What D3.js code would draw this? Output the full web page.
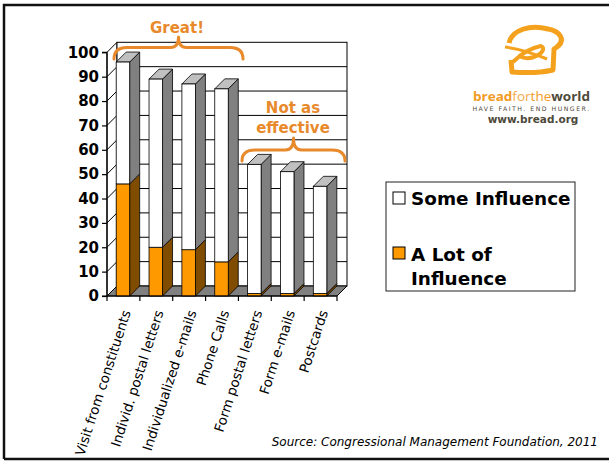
<!DOCTYPE html>
<html><head><meta charset="utf-8">
<script src="https://cdn.jsdelivr.net/npm/d3@7/dist/d3.min.js"></script>
<style>body{margin:0;background:#fff}svg{display:block}</style>
</head><body>
<script>
const categories = ["Visit from constituents","Individ. postal letters","Individualized e-mails","Phone Calls","Form postal letters","Form e-mails","Postcards"];
const aLotOfInfluence = [46,20,19,14,1,1,1];
const someInfluence = [50,69,68,71,53,50,44];
const yTicks = [0,10,20,30,40,50,60,70,80,90,100];
const seriesNames = ["Some Influence","A Lot of Influence"];

const W = 609, H = 461;
const svg = d3.select("body").append("svg").attr("width", W).attr("height", H);
const ORANGE_TXT = "#E8892B";
const DX = 10, DY = -10;

// frame
svg.append("path").attr("d", `M4,459 L4,5 L${W},5`).attr("fill","none").attr("stroke","#111").attr("stroke-width",2.5);
svg.append("line").attr("x1",4).attr("x2",W).attr("y1",459).attr("y2",459).attr("stroke","#111").attr("stroke-width",2.5);

const y = d3.scaleLinear().domain([0,100]).range([296, 52.3]);
const x = d3.scaleBand().domain(categories).range([107, 337]);

const g = svg.append("g");
const x0 = 107, x1 = 337;
// left wall
g.append("polygon").attr("points", [[x0,y(100)],[x0+DX,y(100)+DY],[x0+DX,y(0)+DY],[x0,y(0)]].join(" "))
  .attr("fill","#fff").attr("stroke","#000").attr("stroke-width",1);
// back wall
g.append("rect").attr("x",x0+DX).attr("y",y(100)+DY).attr("width",x1-x0).attr("height",y(0)-y(100))
  .attr("fill","#fff").attr("stroke","#000").attr("stroke-width",1);
// gridlines
yTicks.filter(v=>v>0 && v<100).forEach(v=>{
  g.append("line").attr("x1",x0+DX).attr("x2",x1+DX).attr("y1",y(v)+DY).attr("y2",y(v)+DY).attr("stroke","#000").attr("stroke-width",1);
  g.append("line").attr("x1",x0).attr("x2",x0+DX).attr("y1",y(v)).attr("y2",y(v)+DY).attr("stroke","#000").attr("stroke-width",1);
});
// floor
g.append("polygon").attr("points", [[x0,y(0)],[x1,y(0)],[x1+DX,y(0)+DY],[x0+DX,y(0)+DY]].join(" "))
  .attr("fill","#808080").attr("stroke","#000").attr("stroke-width",1);

// bars
const bw = 13.5;
function box(xl, yb, yt, front, side, top){
  g.append("polygon").attr("points",[[xl+bw,yb],[xl+bw+DX,yb+DY],[xl+bw+DX,yt+DY],[xl+bw,yt]].join(" "))
    .attr("fill",side).attr("stroke","#000").attr("stroke-width",0.8);
  if(top) g.append("polygon").attr("points",[[xl,yt],[xl+DX,yt+DY],[xl+bw+DX,yt+DY],[xl+bw,yt]].join(" "))
    .attr("fill",top).attr("stroke","#000").attr("stroke-width",0.8);
  g.append("rect").attr("x",xl).attr("y",yt).attr("width",bw).attr("height",yb-yt)
    .attr("fill",front).attr("stroke","#000").attr("stroke-width",0.8);
}
categories.forEach((c,i)=>{
  const xl = x(c) + x.bandwidth()/2 - bw/2 - 0.5;
  const a = aLotOfInfluence[i], s = someInfluence[i];
  box(xl, y(0), y(a), "#FF9900", "#7F4C00", null);
  box(xl, y(a), y(a+s), "#FFFFFF", "#808080", "#C0C0C0");
});

// y axis
const ya = svg.append("g").attr("transform","translate(107,0)")
  .call(d3.axisLeft(y).tickValues(yTicks).tickSize(5).tickPadding(3));
ya.select(".domain").attr("stroke","#000").attr("d",`M-5,${y(0)}H0V${y(100)}H-5`).attr("stroke-width",1.2);
ya.selectAll(".tick line").attr("stroke","#000").attr("stroke-width",1.2);
ya.selectAll(".tick text").attr("font-family","'DejaVu Sans', Verdana, sans-serif").attr("font-weight","bold")
  .attr("font-size",15).attr("fill","#000");

// x axis
svg.append("line").attr("x1",x0).attr("x2",x1).attr("y1",y(0)).attr("y2",y(0)).attr("stroke","#000").attr("stroke-width",1.2);
categories.concat(["__end"]).forEach((c,i)=>{
  const xx = i < categories.length ? x(c) : x.range()[1];
  svg.append("line").attr("x1",xx).attr("x2",xx).attr("y1",y(0)).attr("y2",y(0)+5).attr("stroke","#000").attr("stroke-width",1.2);
});
categories.forEach(c=>{
  const cx = x(c) + x.bandwidth()/2 + 7.5, cy = 312;
  svg.append("text").attr("transform",`translate(${cx},${cy}) rotate(-72)`)
    .attr("text-anchor","end").attr("font-family","'DejaVu Sans', Verdana, sans-serif").attr("font-size",13.5)
    .attr("fill","#000").text(c);
});

// annotations
function brace(xa, xb, yEnd, yLine, yPeak){
  const xm = (xa+xb)/2, r = 9;
  const d = `M${xa},${yEnd} Q${xa},${yLine} ${xa+r+4},${yLine} L${xm-8},${yLine} Q${xm},${yLine} ${xm},${yPeak}`+
            ` M${xb},${yEnd} Q${xb},${yLine} ${xb-r-4},${yLine} L${xm+8},${yLine} Q${xm},${yLine} ${xm},${yPeak}`;
  svg.append("path").attr("d",d).attr("fill","none").attr("stroke",ORANGE_TXT).attr("stroke-width",3).attr("stroke-linecap","round");
}
brace(114, 243, 59, 47.5, 37);
brace(242, 345, 161, 150, 138);
const annFont = "'DejaVu Sans', Verdana, sans-serif";
svg.append("text").attr("x",177).attr("y",33).attr("text-anchor","middle").attr("font-family",annFont)
  .attr("font-weight","bold").attr("font-size",15).attr("fill",ORANGE_TXT).text("Great!");
svg.append("text").attr("x",293).attr("y",113).attr("text-anchor","middle").attr("font-family",annFont)
  .attr("font-weight","bold").attr("font-size",15).attr("fill",ORANGE_TXT).text("Not as");
svg.append("text").attr("x",293).attr("y",133).attr("text-anchor","middle").attr("font-family",annFont)
  .attr("font-weight","bold").attr("font-size",15).attr("fill",ORANGE_TXT).text("effective");

// legend
const lg = svg.append("g");
lg.append("rect").attr("x",386).attr("y",182).attr("width",189).attr("height",109).attr("fill","#fff").attr("stroke","#222").attr("stroke-width",1);
lg.append("rect").attr("x",393).attr("y",192).attr("width",12).attr("height",12).attr("fill","#fff").attr("stroke","#000");
lg.append("rect").attr("x",393).attr("y",247).attr("width",12).attr("height",12).attr("fill","#FF9900").attr("stroke","#000");
const legFont = {"font-family":annFont,"font-weight":"bold","font-size":18.4,"fill":"#000"};
function txt(sel, attrs){ Object.entries(attrs).forEach(([k,v])=>sel.attr(k,v)); return sel; }
txt(lg.append("text").attr("x",411).attr("y",205).text(seriesNames[0]), legFont);
txt(lg.append("text").attr("x",411).attr("y",261).text("A Lot of"), legFont);
txt(lg.append("text").attr("x",411).attr("y",285).text("Influence"), legFont);

// logo
const logo = svg.append("g");
const LC = "#F4A21E";
logo.append("path").attr("d","M509,43 C512,30 530,24 548,29 C560,31 566,40 557,47 L554,49 L553,70 C540,73 525,73 512,72 L511,60")
  .attr("fill","none").attr("stroke",LC).attr("stroke-width",5).attr("stroke-linejoin","round");
logo.append("path").attr("d","M505,47 C520,49 535,54 547,59").attr("fill","none").attr("stroke",LC).attr("stroke-width",3);
logo.append("path").attr("d","M513,62 C520,55 530,48 541,46 C546,48 542,54 534,57 C528,59 522,58 518,55")
  .attr("fill","none").attr("stroke",LC).attr("stroke-width",4);
const lt = logo.append("text").attr("x",473).attr("y",101).attr("font-family","'Open Sans', 'DejaVu Sans', sans-serif").attr("font-size",13).attr("textLength",117).attr("lengthAdjust","spacingAndGlyphs");
lt.append("tspan").attr("fill","#F29B1F").attr("font-weight","bold").text("bread");
lt.append("tspan").attr("fill","#F5A94A").text("for");
lt.append("tspan").attr("fill","#F29B1F").text("the");
lt.append("tspan").attr("fill","#4D4A3A").attr("font-weight","bold").text("world");
logo.append("text").attr("x",531.5).attr("y",111).attr("text-anchor","middle").attr("font-family","'DejaVu Sans', sans-serif")
  .attr("font-size",6.2).attr("letter-spacing",1.5).attr("fill","#4D4A3A").text("HAVE FAITH. END HUNGER.");
logo.append("text").attr("x",533).attr("y",123).attr("text-anchor","middle").attr("font-family","'DejaVu Sans', sans-serif")
  .attr("font-weight","bold").attr("font-size",10.5).attr("fill","#4D4A3A").text("www.bread.org");

// source
svg.append("text").attr("x",598).attr("y",446).attr("text-anchor","end").attr("font-family","'DejaVu Sans', Verdana, sans-serif")
  .attr("font-style","italic").attr("font-size",12).attr("fill","#000").text("Source: Congressional Management Foundation, 2011");
</script>
</body></html>
